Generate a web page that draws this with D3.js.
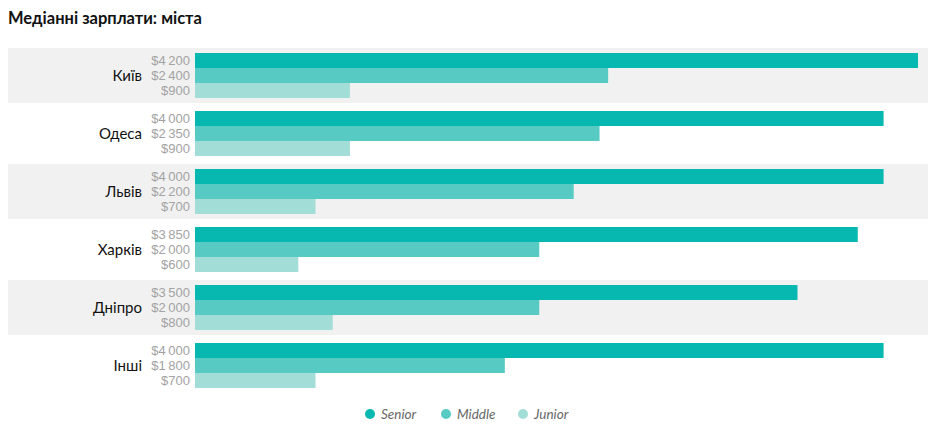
<!DOCTYPE html>
<html><head><meta charset="utf-8">
<script src="https://cdn.jsdelivr.net/npm/d3@7"></script>
<style>body{margin:0;background:#fff}svg{display:block}</style>
</head><body>
<svg id="c" width="940" height="435"></svg>
<script>
const cities = ["Київ", "Одеса", "Львів", "Харків", "Дніпро", "Інші"];
const seriesNames = ["Senior", "Middle", "Junior"];
const senior = [4200, 4000, 4000, 3850, 3500, 4000];
const middle = [2400, 2350, 2200, 2000, 2000, 1800];
const junior = [900, 900, 700, 600, 800, 700];
const colors = ["#07b8b0", "#57cbc3", "#a3ddd8"];
const title = "Медіанні зарплати: міста";

const values = [senior, middle, junior];
const svg = d3.select("#c");
const font = "'Liberation Sans Narrow', 'Liberation Sans', sans-serif";

svg.append("text").attr("x", 8).attr("y", 24)
  .attr("font-family", "Lato, sans-serif").attr("font-weight", "bold")
  .attr("font-size", 16.5).attr("fill", "#111").text(title);

const y = d3.scaleBand().domain(cities).range([48, 393]).paddingInner(3 / 58).paddingOuter(0);
const yi = d3.scaleBand().domain(seriesNames).range([5, 50]);
const x = d3.scaleLinear().domain([0, 4200]).range([195, 918]);
const fmt = v => "$" + d3.format(",")(v).replace(/,/g, "\u2009");

const g = svg.selectAll("g.city").data(cities).join("g").attr("class", "city")
  .attr("transform", d => `translate(0,${y(d)})`);

g.append("rect").attr("x", 8).attr("width", 920).attr("height", y.bandwidth())
  .attr("fill", (d, i) => i % 2 === 0 ? "#f1f1f1" : "#fff");

g.append("text").attr("x", 142).attr("y", y.bandwidth() / 2).attr("dy", "0.35em")
  .attr("text-anchor", "end").attr("font-family", "Lato, sans-serif").attr("font-size", 15)
  .attr("fill", "#111").text(d => d);

seriesNames.forEach((s, si) => {
  g.append("rect").attr("x", x(0)).attr("y", yi(s)).attr("height", yi.bandwidth())
    .attr("width", (d, i) => x(values[si][i]) - x(0)).attr("fill", colors[si]);
  g.append("text").attr("x", 190).attr("y", yi(s) + yi.bandwidth() / 2).attr("dy", "0.36em")
    .attr("text-anchor", "end").attr("font-family", font).attr("font-size", 13)
    .attr("fill", "#a3a3a3").text((d, i) => fmt(values[si][i]));
});

const legX = [370, 446, 523];
const lg = svg.selectAll("g.leg").data(seriesNames).join("g").attr("class", "leg")
  .attr("transform", (d, i) => `translate(${legX[i]},414)`);
lg.append("circle").attr("r", 5).attr("fill", (d, i) => colors[i]);
lg.append("text").attr("x", 11).attr("dy", "0.35em").attr("font-family", "Lato, sans-serif")
  .attr("font-style", "italic").attr("font-size", 13.5).attr("fill", "#666").text(d => d);
</script>
</body></html>
